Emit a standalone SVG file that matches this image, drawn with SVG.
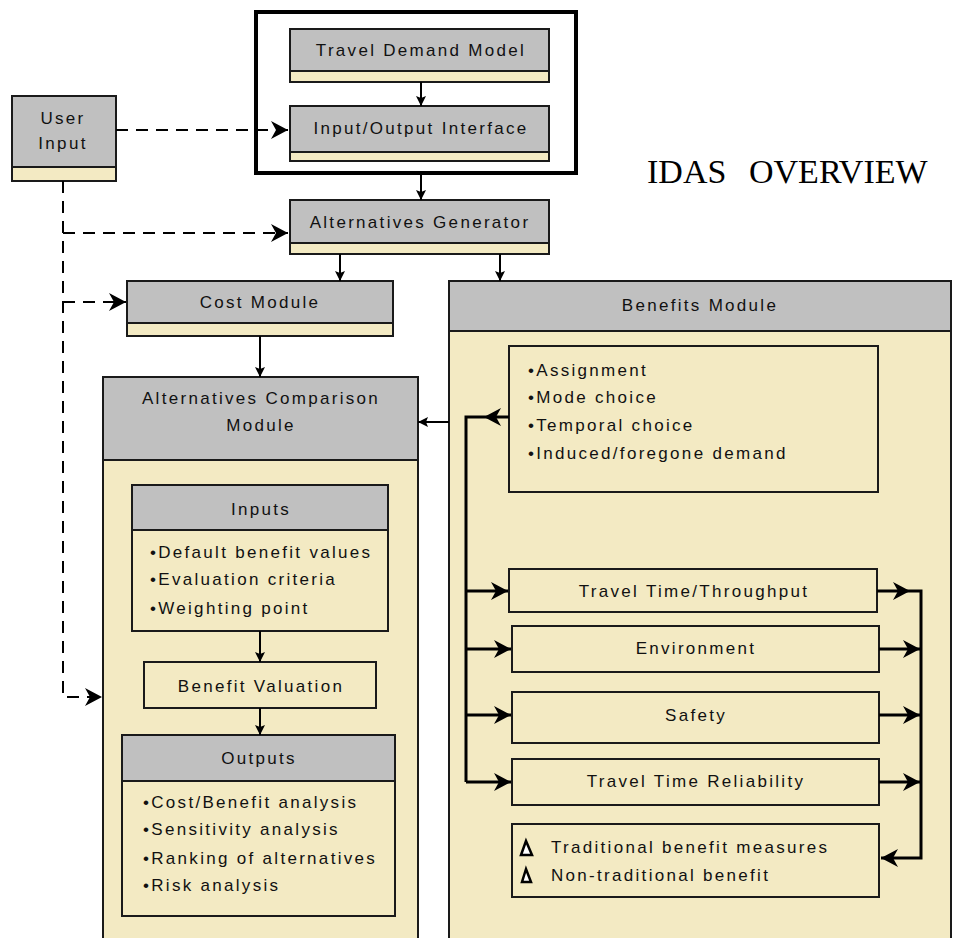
<svg xmlns="http://www.w3.org/2000/svg" width="956" height="938" viewBox="0 0 956 938">
<style>
.g{fill:#C0C0C0;stroke:#1a1a1a;stroke-width:2}
.y{fill:#F3EAC3;stroke:#1a1a1a;stroke-width:2}
.t{font-family:"Liberation Sans",Arial,sans-serif;font-size:17px;letter-spacing:2.3px;fill:#111}
.c{text-anchor:middle}
.ln{stroke:#000;stroke-width:2;fill:none}
.th{stroke-width:3}
.d{stroke-dasharray:12 8}
.title{font-family:"Liberation Serif","Times New Roman",serif;font-size:34px;fill:#000}
</style>
<defs>
<marker id="barb" markerUnits="userSpaceOnUse" viewBox="-18 -10 20 20" refX="0" refY="0" markerWidth="20" markerHeight="20" orient="auto" overflow="visible">
<path d="M0,0 L-17,-9 L-12,0 L-17,9 Z" fill="#000"/>
</marker>
<marker id="tri" markerUnits="userSpaceOnUse" viewBox="-12 -6 14 12" refX="0" refY="0" markerWidth="14" markerHeight="12" orient="auto" overflow="visible">
<path d="M0,0 L-10,-5 L-8,0 L-10,5 Z" fill="#000"/>
</marker>
</defs>
<rect width="956" height="938" fill="#fff"/>

<text class="title" x="647" y="183">IDAS<tspan x="749">OVERVIEW</tspan></text>

<g id="group-box"><rect x="256" y="12" width="320" height="161" fill="none" stroke="#000" stroke-width="4"/></g>

<g id="travel-demand-model">
<rect class="g" x="290" y="29" width="259" height="42"/><rect class="y" x="290" y="71" width="259" height="11"/>
<text class="t c" x="421" y="56">Travel Demand Model</text></g>

<g id="io-interface">
<rect class="g" x="290" y="106" width="259" height="46"/><rect class="y" x="290" y="152" width="259" height="9"/>
<text class="t c" x="421" y="134">Input/Output Interface</text></g>

<g id="alternatives-generator">
<rect class="g" x="290" y="200" width="259" height="43"/><rect class="y" x="290" y="243" width="259" height="11"/>
<text class="t c" x="420" y="228">Alternatives Generator</text></g>

<g id="user-input">
<rect class="g" x="12" y="96" width="104" height="71"/><rect class="y" x="12" y="167" width="104" height="14"/>
<text class="t c" x="63" y="124">User</text><text class="t c" x="63" y="149">Input</text></g>

<g id="cost-module">
<rect class="g" x="127" y="281" width="266" height="42"/><rect class="y" x="127" y="323" width="266" height="13"/>
<text class="t c" x="260" y="308">Cost Module</text></g>

<g id="benefits-module">
<rect class="y" x="449" y="281" width="502" height="700"/><rect class="g" x="449" y="281" width="502" height="50"/>
<text class="t c" x="700" y="311">Benefits Module</text></g>

<g id="alternatives-comparison-module">
<rect class="y" x="103" y="377" width="315" height="600"/><rect class="g" x="103" y="377" width="315" height="83"/>
<text class="t c" x="261" y="404">Alternatives Comparison</text>
<text class="t c" x="261" y="431">Module</text></g>

<g id="inputs">
<rect class="g" x="132" y="485" width="256" height="45"/><rect class="y" x="132" y="530" width="256" height="101"/>
<text class="t c" x="261" y="515">Inputs</text>
<text class="t" x="150" y="558">•Default benefit values</text>
<text class="t" x="150" y="585">•Evaluation criteria</text>
<text class="t" x="150" y="614">•Weighting point</text></g>

<g id="benefit-valuation">
<rect class="y" x="144" y="662" width="232" height="46"/>
<text class="t c" x="261" y="692">Benefit Valuation</text></g>

<g id="outputs">
<rect class="g" x="122" y="735" width="273" height="46"/><rect class="y" x="122" y="781" width="273" height="135"/>
<text class="t c" x="259" y="764">Outputs</text>
<text class="t" x="143" y="808">•Cost/Benefit analysis</text>
<text class="t" x="143" y="835">•Sensitivity analysis</text>
<text class="t" x="143" y="864">•Ranking of alternatives</text>
<text class="t" x="143" y="891">•Risk analysis</text></g>

<g id="demand-list">
<rect class="y" x="509" y="346" width="369" height="146"/>
<text class="t" x="528" y="376">•Assignment</text>
<text class="t" x="528" y="403">•Mode choice</text>
<text class="t" x="528" y="431">•Temporal choice</text>
<text class="t" x="528" y="459">•Induced/foregone demand</text></g>

<g id="travel-time-throughput">
<rect class="y" x="509" y="569" width="368" height="43"/>
<text class="t c" x="694" y="597">Travel Time/Throughput</text></g>

<g id="environment">
<rect class="y" x="512" y="626" width="367" height="46"/>
<text class="t c" x="696" y="654">Environment</text></g>

<g id="safety">
<rect class="y" x="512" y="692" width="367" height="51"/>
<text class="t c" x="696" y="721">Safety</text></g>

<g id="travel-time-reliability">
<rect class="y" x="512" y="759" width="367" height="46"/>
<text class="t c" x="696" y="787">Travel Time Reliability</text></g>

<g id="legend">
<rect class="y" x="512" y="824" width="367" height="73"/>
<polygon points="526,841 521,855 532,855" fill="#fff" stroke="#000" stroke-width="2.5"/>
<polygon points="526,869 522,882 531,882" fill="#fff" stroke="#000" stroke-width="2.5"/>
<text class="t" x="551" y="853">Traditional benefit measures</text>
<text class="t" x="551" y="881">Non-traditional benefit</text></g>

<g id="connectors">
<path class="ln" d="M421,82 V106" marker-end="url(#tri)"/>
<path class="ln" d="M421,175 V200" marker-end="url(#tri)"/>
<path class="ln" d="M340,254 V281" marker-end="url(#tri)"/>
<path class="ln" d="M500,254 V281" marker-end="url(#tri)"/>
<path class="ln" d="M260,336 V377" marker-end="url(#tri)"/>
<path class="ln" d="M260,631 V662" marker-end="url(#tri)"/>
<path class="ln" d="M260,708 V735" marker-end="url(#tri)"/>
<path class="ln" d="M449,422 H418" marker-end="url(#tri)"/>

<path class="ln d" d="M116,130 H288" marker-end="url(#barb)"/>
<path class="ln d" d="M63,181 V697 H102" marker-end="url(#barb)"/>
<path class="ln d" d="M63,233 H288" marker-end="url(#barb)"/>
<path class="ln d" d="M63,302 H126" marker-end="url(#barb)"/>

<path class="ln th" d="M509,417 H484" marker-end="url(#barb)"/>
<path class="ln th" d="M484,417 H466 V782"/>
<path class="ln th" d="M466,591 H508" marker-end="url(#barb)"/>
<path class="ln th" d="M466,649 H511" marker-end="url(#barb)"/>
<path class="ln th" d="M466,715 H511" marker-end="url(#barb)"/>
<path class="ln th" d="M466,782 H511" marker-end="url(#barb)"/>

<path class="ln th" d="M877,591 H910" marker-end="url(#barb)"/>
<path class="ln th" d="M910,591 H921 V858 H904"/>
<path class="ln th" d="M904,858 H881" marker-end="url(#barb)"/>
<path class="ln th" d="M879,649 H920" marker-end="url(#barb)"/>
<path class="ln th" d="M879,715 H920" marker-end="url(#barb)"/>
<path class="ln th" d="M879,782 H920" marker-end="url(#barb)"/>
</g>
</svg>
